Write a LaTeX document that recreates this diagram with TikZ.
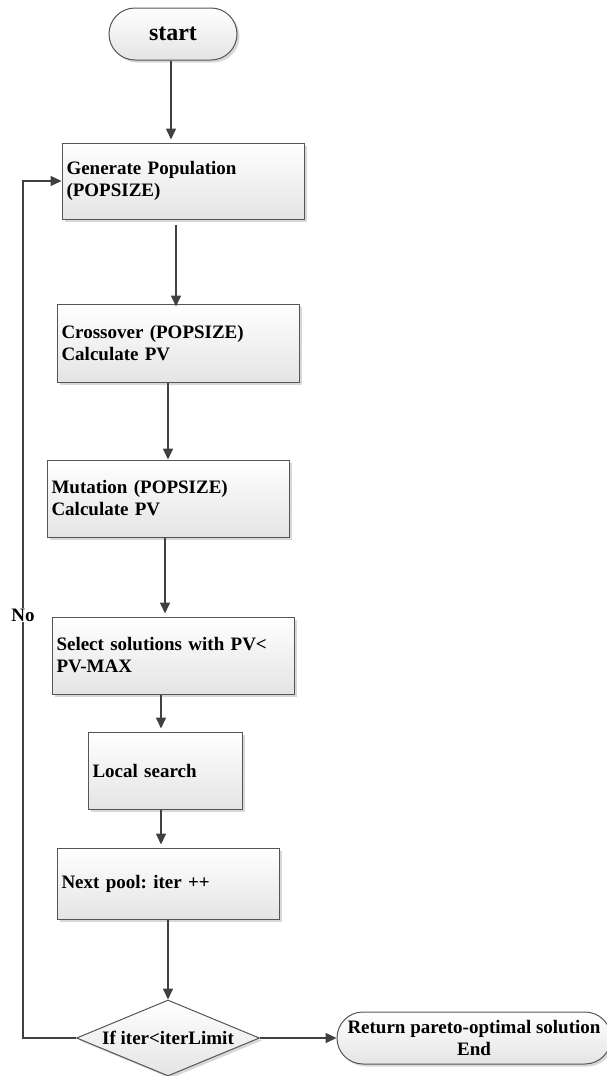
\documentclass[tikz,border=0pt]{standalone}
\usepackage{fontspec}
\setmainfont{Liberation Serif}
\usetikzlibrary{shapes.geometric,shadows,arrows.meta}
\frenchspacing

\definecolor{linec}{HTML}{404040}
\definecolor{boxline}{HTML}{555555}
\definecolor{boxbot}{HTML}{E4E4E4}

\begin{document}
\begin{tikzpicture}[x=1pt,y=-1pt,
  font=\bfseries\fontsize{19}{22}\selectfont,
  shape3d/.style={draw=boxline, line width=1pt, top color=white, bottom color=boxbot,
    drop shadow={shadow xshift=2.5pt, shadow yshift=-2.5pt, fill=black!30, opacity=.5}},
  procbox/.style={shape3d, rectangle, inner xsep=4.5pt, inner ysep=0pt, align=left},
  termbox/.style={shape3d, rectangle, rounded corners=26pt, inner sep=0pt, align=center, minimum height=52pt},
  decbox/.style={shape3d, diamond, aspect=2.4, inner sep=0pt, minimum width=183pt, minimum height=76pt},
  flow/.style={draw=linec, line width=1.6pt, -{Triangle[length=11pt,width=10pt]}},
  gap/.style={shorten >=3pt}]

\useasboundingbox (0,0) rectangle (606,1076);

% process steps
\node[termbox, minimum width=128pt, font=\bfseries\fontsize{24}{26}\selectfont] (start) at (173,34) {start};
\node[procbox, minimum width=242pt, minimum height=76pt, text width=233pt] (gen) at (183,181)
  {Generate Population\\(POPSIZE)};
\node[procbox, minimum width=242pt, minimum height=78pt, text width=233pt] (cross) at (178,343)
  {Crossover (POPSIZE)\\Calculate PV};
\node[procbox, minimum width=242pt, minimum height=77pt, text width=233pt] (mut) at (168,498.5)
  {Mutation (POPSIZE)\\Calculate PV};
\node[procbox, minimum width=242pt, minimum height=77pt, text width=233pt] (sel) at (173,655.5)
  {Select solutions with PV<\\PV-MAX};
\node[procbox, minimum width=154pt, minimum height=77pt, text width=145pt] (loc) at (165,770.5)
  {Local search};
\node[procbox, minimum width=222pt, minimum height=71pt, text width=213pt] (next) at (168,883.5)
  {Next pool: iter ++};
\node[decbox] (dec) at (168,1038) {If iter<iterLimit};
\node[termbox, minimum width=274pt] (end) at (474,1038)
  {Return pareto-optimal solution\\End};

% main flow
\draw[flow, gap] (start.south -| 171,0) -- (gen.north -| 171,0);
\draw[flow] ([yshift=-5pt]gen.south -| 176,0) -- ([yshift=-3pt]cross.north -| 176,0);
\draw[flow] (cross.south -| 168,0) -- (mut.north -| 168,0);
\draw[flow, gap] (mut.south -| 165,0) -- (sel.north -| 165,0);
\draw[flow, gap] (sel.south -| 161,0) -- (loc.north -| 161,0);
\draw[flow, gap] (loc.south -| 161,0) -- (next.north -| 161,0);
\draw[flow] (next.south -| 168,0) -- (dec.north);
\draw[flow] (dec.east) -- (end.west);

% loop back
\coordinate (loopc) at (23,1038);
\draw[flow] (dec.west) -- (loopc) |- (gen.west);
\node[fill=white, inner sep=1pt] (no) at (23,615) {No};

\end{tikzpicture}
\end{document}
